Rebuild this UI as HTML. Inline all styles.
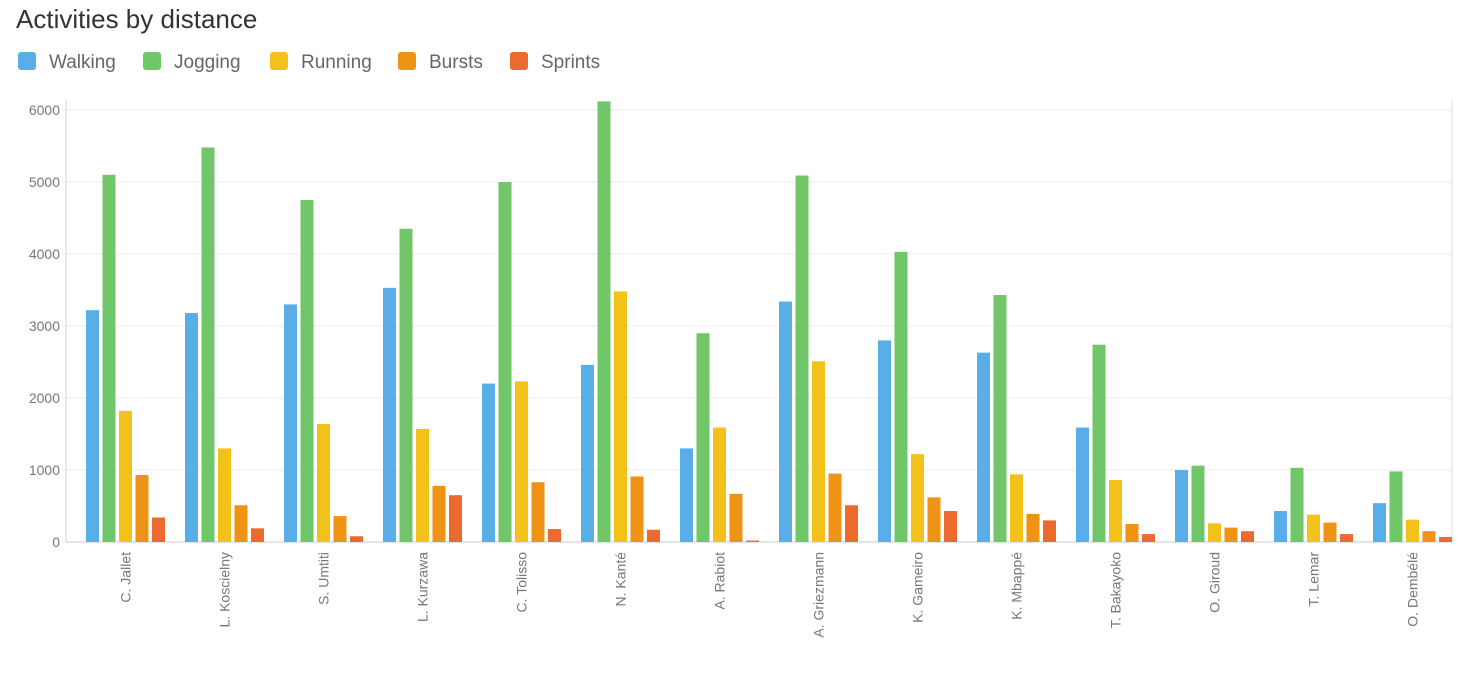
<!DOCTYPE html>
<html><head><meta charset="utf-8"><style>
body{margin:0;width:1460px;height:673px;background:#fff;font-family:"Liberation Sans",sans-serif;overflow:hidden}
svg text{font-family:"Liberation Sans",sans-serif}
</style></head><body>
<svg id="c" width="1460" height="673">
<text x="16" y="28" font-size="26" fill="#333">Activities by distance</text>
<g id="legend"></g>
<g id="grid"></g>
<g id="bars"></g>
<g id="xl"></g>
</svg>
<script>
const categories=["C. Jallet","L. Koscielny","S. Umtiti","L. Kurzawa","C. Tolisso","N. Kanté","A. Rabiot","A. Griezmann","K. Gameiro","K. Mbappé","T. Bakayoko","O. Giroud","T. Lemar","O. Dembélé"];
const seriesNames=["Walking","Jogging","Running","Bursts","Sprints"];
const walking=[3220,3180,3300,3530,2200,2460,1300,3340,2800,2630,1590,1000,430,540];
const jogging=[5100,5480,4750,4350,5000,6120,2900,5090,4030,3430,2740,1060,1030,980];
const running=[1820,1300,1640,1570,2230,3480,1590,2510,1220,940,860,260,380,310];
const bursts=[930,510,360,780,830,910,670,950,620,390,250,200,270,150];
const sprints=[340,190,80,650,180,170,20,510,430,300,110,150,110,70];
const yTicks=[0,1000,2000,3000,4000,5000,6000];
const colors=["#5aaee8","#72c66a","#f2c21b","#ee9313","#ec6a2e"];
const series=[walking,jogging,running,bursts,sprints];
const NS="http://www.w3.org/2000/svg";
const L=66,R=1452,B=542,T=100;
const y=v=>B-v*0.072;
const bw=(R-L)/categories.length;
function mk(t,a,p){const e=document.createElementNS(NS,t);for(const k in a)e.setAttribute(k,a[k]);p.appendChild(e);return e;}
const grid=document.getElementById('grid');
yTicks.forEach(v=>{
 const l=mk('line',{x1:L,x2:R,y1:y(v),y2:y(v),stroke:v===0?'#ccc':'#eee','stroke-width':1},grid);
 
 
 const t=mk('text',{x:L-6,y:y(v)+5,'text-anchor':'end','font-size':14,fill:'#777'},grid);
 t.textContent=v;
 
 
});
const ax=mk('line',{x1:L,x2:L,y1:T,y2:B,stroke:'#ccc'},grid);


const rb=mk('line',{x1:R,x2:R,y1:T,y2:B,stroke:'#ddd'},grid);


const bars=document.getElementById('bars');
const xl=document.getElementById('xl');
categories.forEach((c,i)=>{
 const start=L+i*bw+20;
 series.forEach((s,j)=>{
  const v=s[i];
  const r=mk('rect',{x:start+j*16.5,y:y(v),width:13,height:B-y(v),fill:colors[j]},bars);
  
  
 });
 const cx=L+i*bw+bw/2+15;
 const t=mk('text',{x:cx,y:552,'text-anchor':'end','font-size':14,fill:'#777',transform:`rotate(-90 ${cx} 552)`},xl);
 t.textContent=c;
 
 
});
const lg=document.getElementById('legend');
const lx=[18,143,270,398,510];
seriesNames.forEach((n,j)=>{
 const r=mk('rect',{x:lx[j],y:52,width:18,height:18,rx:3,fill:colors[j]},lg);
 
 
 const t=mk('text',{x:lx[j]+31,y:68,'font-size':19,fill:'#666'},lg);
 t.textContent=n;
 
 
});
</script>
</body></html>
